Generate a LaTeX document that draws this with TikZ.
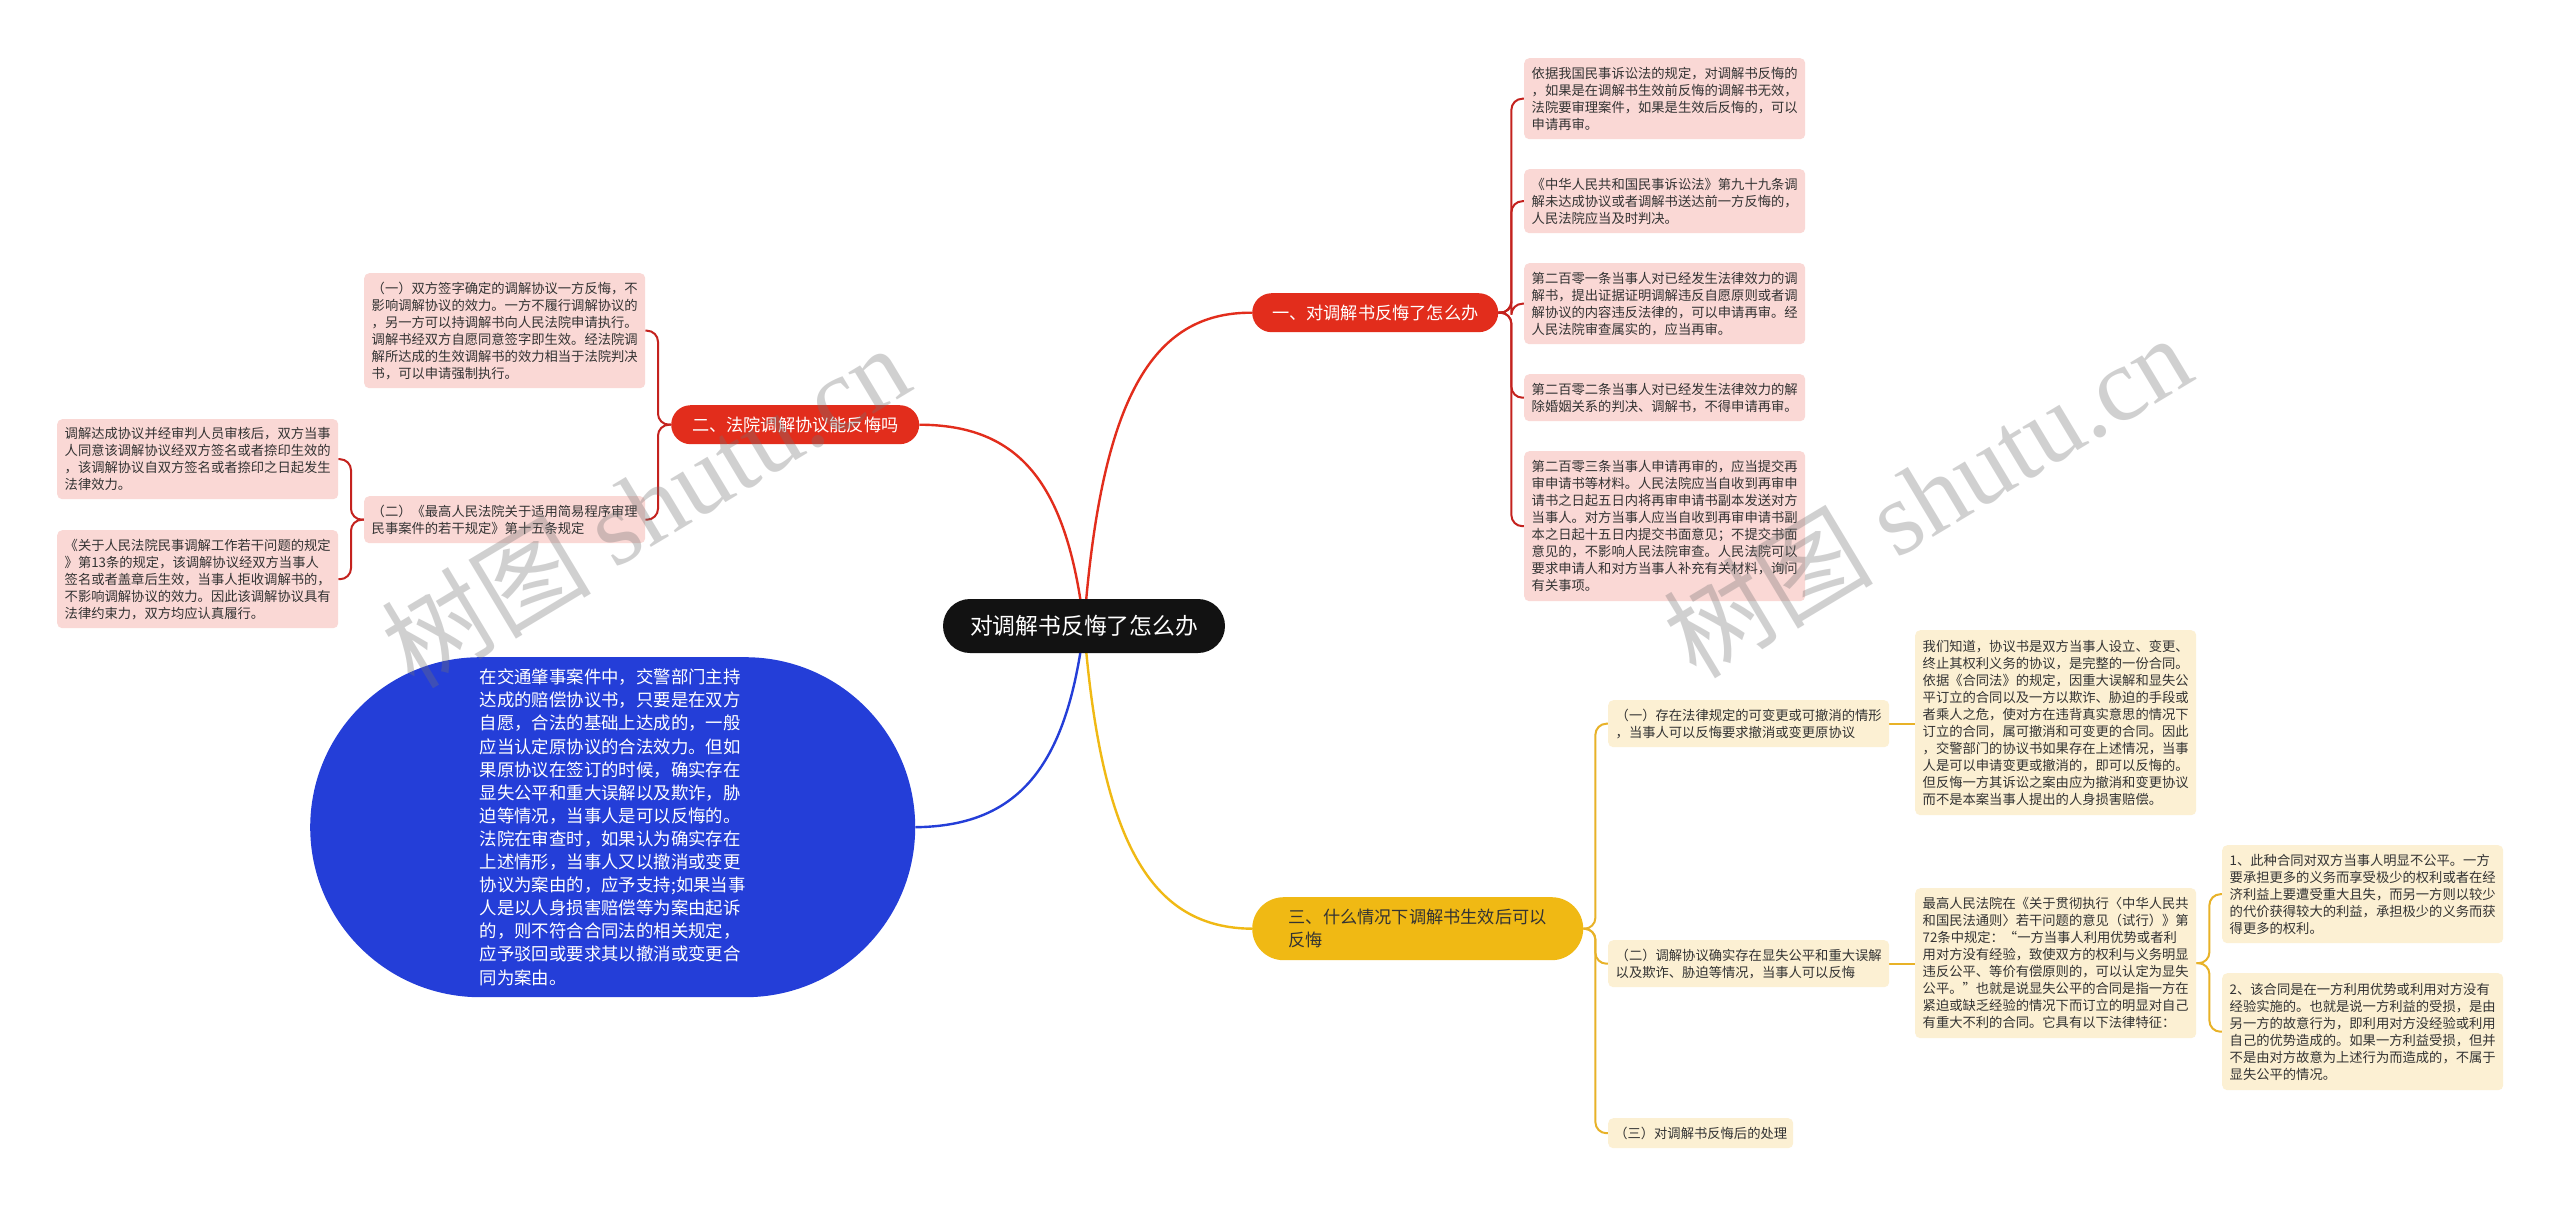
\documentclass[tikz,border=0pt]{standalone}
\usepackage{fontspec}
\setmainfont{Noto Sans CJK SC}
\newfontfamily\wmserif{Liberation Serif}
\usetikzlibrary{backgrounds}
\definecolor{pinkfill}{RGB}{250,216,213}
\definecolor{creamfill}{RGB}{252,240,211}
\definecolor{redpill}{RGB}{226,45,28}
\definecolor{redline}{RGB}{196,34,30}
\definecolor{yellowpill}{RGB}{240,185,20}
\definecolor{yline}{RGB}{232,178,40}
\definecolor{bluefill}{RGB}{36,62,216}
\definecolor{txt}{RGB}{51,51,51}
\begin{document}
\begin{tikzpicture}[x=1pt,y=-1pt,
  box/.style={rounded corners=5pt, align=left, inner xsep=0pt, inner ysep=0pt,
    font=\fontsize{13.3}{17}\selectfont, text=txt, anchor=north west},
  pinkbox/.style={box, fill=pinkfill},
  creambox/.style={box, fill=creamfill},
  redpillst/.style={fill=redpill, text=white, rounded corners=19.5pt, anchor=north west,
    minimum height=39pt, font=\fontsize{17.2}{21}\selectfont, inner sep=0pt},
  rline/.style={draw=redline, line width=2pt, rounded corners=11pt},
  yl/.style={draw=yline, line width=2pt, rounded corners=11pt},
  wm/.style={text=black!55, opacity=0.33, font=\fontsize{105}{105}\selectfont, inner sep=0pt}
]
\useasboundingbox (0,0) rectangle (2560,1207);

% central
\node[fill=black!93, text=white, rounded corners=27pt, minimum width=282pt, minimum height=54pt,
  inner sep=0pt, font=\fontsize{22.8}{26}\selectfont] (c) at (1084,626) {对调解书反悔了怎么办};

% main branches
\node[redpillst, minimum width=246pt] (n1) at (1252,293) {一、对调解书反悔了怎么办};
\node[redpillst, minimum width=248pt] (n2) at (671,405) {二、法院调解协议能反悔吗};
\node[fill=yellowpill, text=txt, rounded corners=31.5pt, minimum width=331pt, minimum height=63pt,
  inner sep=0pt, align=left, anchor=north west, font=\fontsize{17.2}{23}\selectfont] (n3) at (1252,897)
  {三、什么情况下调解书生效后可以\\反悔};
\node[fill=bluefill, text=white, rounded corners=170pt, minimum width=605pt, minimum height=340pt,
  inner sep=0pt, align=left, anchor=north west, font=\fontsize{17.4}{23.1}\selectfont] (bl) at (310,657)
  {在交通肇事案件中，交警部门主持\\达成的赔偿协议书，只要是在双方\\自愿，合法的基础上达成的，一般\\应当认定原协议的合法效力。但如\\果原协议在签订的时候，确实存在\\显失公平和重大误解以及欺诈，胁\\迫等情况，当事人是可以反悔的。\\法院在审查时，如果认为确实存在\\上述情形，当事人又以撤消或变更\\协议为案由的，应予支持;如果当事\\人是以人身损害赔偿等为案由起诉\\的，则不符合合同法的相关规定，\\应予驳回或要求其以撤消或变更合\\同为案由。};

% right red children
\node[pinkbox, minimum width=281pt, minimum height=81pt] (r1) at (1524,58)
  {依据我国民事诉讼法的规定，对调解书反悔的\\，如果是在调解书生效前反悔的调解书无效，\\法院要审理案件，如果是生效后反悔的，可以\\申请再审。};
\node[pinkbox, minimum width=281pt, minimum height=64pt] (r2) at (1524,169)
  {《中华人民共和国民事诉讼法》第九十九条调\\解未达成协议或者调解书送达前一方反悔的，\\人民法院应当及时判决。};
\node[pinkbox, minimum width=281pt, minimum height=81pt] (r3) at (1524,263)
  {第二百零一条当事人对已经发生法律效力的调\\解书，提出证据证明调解违反自愿原则或者调\\解协议的内容违反法律的，可以申请再审。经\\人民法院审查属实的，应当再审。};
\node[pinkbox, minimum width=281pt, minimum height=47pt] (r4) at (1524,374)
  {第二百零二条当事人对已经发生法律效力的解\\除婚姻关系的判决、调解书，不得申请再审。};
\node[pinkbox, minimum width=281pt, minimum height=150pt] (r5) at (1524,451)
  {第二百零三条当事人申请再审的，应当提交再\\审申请书等材料。人民法院应当自收到再审申\\请书之日起五日内将再审申请书副本发送对方\\当事人。对方当事人应当自收到再审申请书副\\本之日起十五日内提交书面意见；不提交书面\\意见的，不影响人民法院审查。人民法院可以\\要求申请人和对方当事人补充有关材料，询问\\有关事项。};

% left red children
\node[pinkbox, minimum width=281pt, minimum height=115pt] (l1) at (364,273)
  {（一）双方签字确定的调解协议一方反悔，不\\影响调解协议的效力。一方不履行调解协议的\\，另一方可以持调解书向人民法院申请执行。\\调解书经双方自愿同意签字即生效。经法院调\\解所达成的生效调解书的效力相当于法院判决\\书，可以申请强制执行。};
\node[pinkbox, minimum width=281pt, minimum height=47pt] (l2) at (364,496)
  {（二）《最高人民法院关于适用简易程序审理\\民事案件的若干规定》第十五条规定};
\node[pinkbox, minimum width=281pt, minimum height=80pt] (la) at (57,419)
  {调解达成协议并经审判人员审核后，双方当事\\人同意该调解协议经双方签名或者捺印生效的\\，该调解协议自双方签名或者捺印之日起发生\\法律效力。};
\node[pinkbox, minimum width=281pt, minimum height=98pt] (lb) at (57,530)
  {《关于人民法院民事调解工作若干问题的规定\\》第13条的规定，该调解协议经双方当事人\\签名或者盖章后生效，当事人拒收调解书的，\\不影响调解协议的效力。因此该调解协议具有\\法律约束力，双方均应认真履行。};

% yellow children
\node[creambox, minimum width=281pt, minimum height=47pt] (y1) at (1608,700)
  {（一）存在法律规定的可变更或可撤消的情形\\，当事人可以反悔要求撤消或变更原协议};
\node[creambox, minimum width=281pt, minimum height=185pt] (y1c) at (1915,630)
  {我们知道，协议书是双方当事人设立、变更、\\终止其权利义务的协议，是完整的一份合同。\\依据《合同法》的规定，因重大误解和显失公\\平订立的合同以及一方以欺诈、胁迫的手段或\\者乘人之危，使对方在违背真实意思的情况下\\订立的合同，属可撤消和可变更的合同。因此\\，交警部门的协议书如果存在上述情况，当事\\人是可以申请变更或撤消的，即可以反悔的。\\但反悔一方其诉讼之案由应为撤消和变更协议\\而不是本案当事人提出的人身损害赔偿。};
\node[creambox, minimum width=281pt, minimum height=47pt] (y2) at (1608,940)
  {（二）调解协议确实存在显失公平和重大误解\\以及欺诈、胁迫等情况，当事人可以反悔};
\node[creambox, minimum width=281pt, minimum height=150pt] (y2c) at (1915,888)
  {最高人民法院在《关于贯彻执行〈中华人民共\\和国民法通则〉若干问题的意见（试行）》第\\72条中规定：“一方当事人利用优势或者利\\用对方没有经验，致使双方的权利与义务明显\\违反公平、等价有偿原则的，可以认定为显失\\公平。”也就是说显失公平的合同是指一方在\\紧迫或缺乏经验的情况下而订立的明显对自己\\有重大不利的合同。它具有以下法律特征：};
\node[creambox, minimum width=281pt, minimum height=98pt] (g1) at (2222,845)
  {1、此种合同对双方当事人明显不公平。一方\\要承担更多的义务而享受极少的权利或者在经\\济利益上要遭受重大且失，而另一方则以较少\\的代价获得较大的利益，承担极少的义务而获\\得更多的权利。};
\node[creambox, minimum width=281pt, minimum height=117pt] (g2) at (2222,973)
  {2、该合同是在一方利用优势或利用对方没有\\经验实施的。也就是说一方利益的受损，是由\\另一方的故意行为，即利用对方没经验或利用\\自己的优势造成的。如果一方利益受损，但并\\不是由对方故意为上述行为而造成的，不属于\\显失公平的情况。};
\node[creambox, minimum width=185pt, minimum height=30pt] (y3) at (1608,1118)
  {（三）对调解书反悔后的处理};

\begin{scope}[on background layer]
  \fill[white] (0,0) rectangle (2560,1207);
  % main curves
  \draw[redpill, line width=2.4pt] (c.center) .. controls (1101,400) and (1151,312) .. (n1.west);
  \draw[redpill, line width=2.4pt] (c.center) .. controls (1067,481) and (1018,425) .. (n2.east);
  \draw[bluefill, line width=2.4pt] (c.center) .. controls (1067,770) and (1016,826) .. (bl.east);
  \draw[yellowpill, line width=2.4pt] (c.center) .. controls (1101,843) and (1151,928) .. (n3.west);
  % right red brackets
  \foreach \t in {r1,r2,r3,r4,r5} \draw[rline] (n1.east) -- ++(13,0) |- (\t.west);
  % left red brackets
  \foreach \t in {l1,l2} \draw[rline] (n2.west) -- ++(-13,0) |- (\t.east);
  \foreach \t in {la,lb} \draw[rline] (l2.west) -- ++(-13,0) |- (\t.east);
  % yellow brackets
  \foreach \t in {y1,y2,y3} \draw[yl] (n3.east) -- ++(12,0) |- (\t.west);
  \draw[yl] (y1.east) -- (y1c.west |- y1.east);
  \draw[yl] (y2.east) -- (y2c.west |- y2.east);
  \foreach \t in {g1,g2} \draw[yl] (y2c.east) -- ++(13,0) |- (\t.west);
\end{scope}

% watermarks
\node[wm, rotate=31] (wm1) at (645,505) {树图 {\wmserif shutu.cn}};
\node[wm, rotate=31] (wm2) at (1927,495) {树图 {\wmserif shutu.cn}};
\end{tikzpicture}
\end{document}
